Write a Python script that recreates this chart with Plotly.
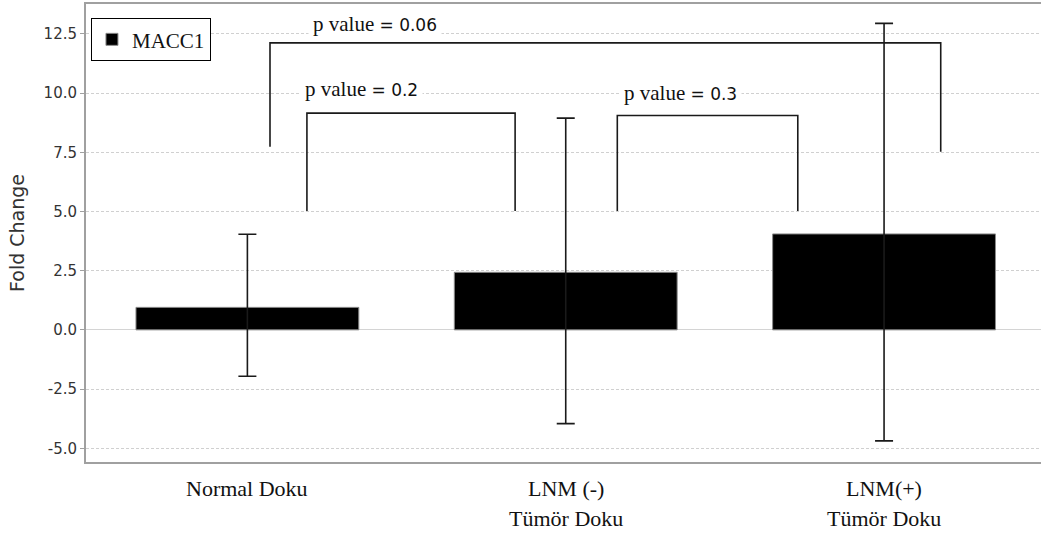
import plotly.graph_objects as go

# ---- data ----
categories = [0, 1, 2]
label_line1 = ["Normal Doku", "LNM (-)", "LNM(+)"]
label_line2 = ["", "Tümör Doku", "Tümör Doku"]
series_name = "MACC1"
fold_change = [0.95, 2.43, 4.05]
err_plus = [3.09, 6.51, 8.89]
err_minus = [2.91, 6.39, 8.74]

# significance brackets: left x, right x, top y, left bottom y, right bottom y
br_left = [0.071, 0.187, 1.162]
br_right = [2.178, 0.841, 1.729]
br_top = [12.12, 9.15, 9.05]
br_left_bottom = [7.73, 5.02, 5.02]
br_right_bottom = [7.52, 5.02, 5.02]
p_texts = ["0.06", "0.2", "0.3"]
p_text_x = [0.401, 0.359, 1.360]
p_text_y = [12.93, 10.16, 10.0]

y_ticks = [-5.0, -2.5, 0.0, 2.5, 5.0, 7.5, 10.0, 12.5]

SERIF = "Liberation Serif, Times New Roman, serif"
SANS = "DejaVu Sans, sans-serif"

fig = go.Figure()

fig.add_trace(go.Bar(
    x=categories, y=fold_change, name=series_name, width=0.70,
    marker=dict(color="black", line=dict(color="#8a8a8a", width=1)),
    error_y=dict(type="data", symmetric=False, array=err_plus, arrayminus=err_minus,
                 color="#1a1a1a", thickness=1.6, width=9),
    showlegend=True,
))

for i in range(len(br_left)):
    fig.add_trace(go.Scatter(
        x=[br_left[i], br_left[i], br_right[i], br_right[i]],
        y=[br_left_bottom[i], br_top[i], br_top[i], br_right_bottom[i]],
        mode="lines", line=dict(color="#1a1a1a", width=1.6),
        showlegend=False, hoverinfo="skip",
    ))

annotations = []
for i in range(len(p_texts)):
    annotations.append(dict(
        x=p_text_x[i], y=p_text_y[i], xref="x", yref="y",
        text=(f'<span style="font-family:{SERIF};font-size:21px">p value </span>'
              f'<span style="font-family:{SANS};font-size:17px">= {p_texts[i]}</span>'),
        showarrow=False, bgcolor="white", borderpad=4,
        xanchor="center", yanchor="middle",
        font=dict(color="#111111", size=17, family=SANS),
    ))

for i, c in enumerate(categories):
    annotations.append(dict(
        x=c, y=-0.058, xref="x", yref="paper", text=label_line1[i],
        showarrow=False, xanchor="center", yanchor="middle",
        font=dict(family=SERIF, size=22, color="#111111"),
    ))
    if label_line2[i]:
        annotations.append(dict(
            x=c, y=-0.124, xref="x", yref="paper", text=label_line2[i],
            showarrow=False, xanchor="center", yanchor="middle",
            font=dict(family=SERIF, size=22, color="#111111"),
        ))

fig.update_layout(
    width=1041, height=539,
    margin=dict(l=86, r=0, t=4, b=77),
    paper_bgcolor="white", plot_bgcolor="white",
    annotations=annotations,
    legend=dict(
        x=0.0052, y=0.969, xanchor="left", yanchor="top",
        bgcolor="white", bordercolor="black", borderwidth=1,
        font=dict(family=SERIF, size=21, color="#111111"),
        itemwidth=30, tracegroupgap=0,
    ),
    xaxis=dict(
        range=[-0.507, 2.493], showgrid=False, zeroline=False,
        showline=True, mirror=True, linecolor="#a0a0a0", linewidth=2,
        showticklabels=False, ticks="",
    ),
    yaxis=dict(
        range=[-5.58, 13.76], tickvals=y_ticks,
        ticktext=[f"{v:.1f}" for v in y_ticks],
        showgrid=True, gridcolor="#d0d0d0", gridwidth=1, griddash="3px,2px",
        zeroline=True, zerolinecolor="#d4d4d4", zerolinewidth=1,
        showline=True, linecolor="#a0a0a0", linewidth=2,
        ticks="outside", ticklen=4, tickcolor="#a0a0a0",
        tickfont=dict(family=SANS, size=15, color="#333333"),
        title=dict(text="Fold Change", font=dict(family=SANS, size=19, color="#333333"),
                   standoff=14),
    ),
)

fig.write_html("out.html")
